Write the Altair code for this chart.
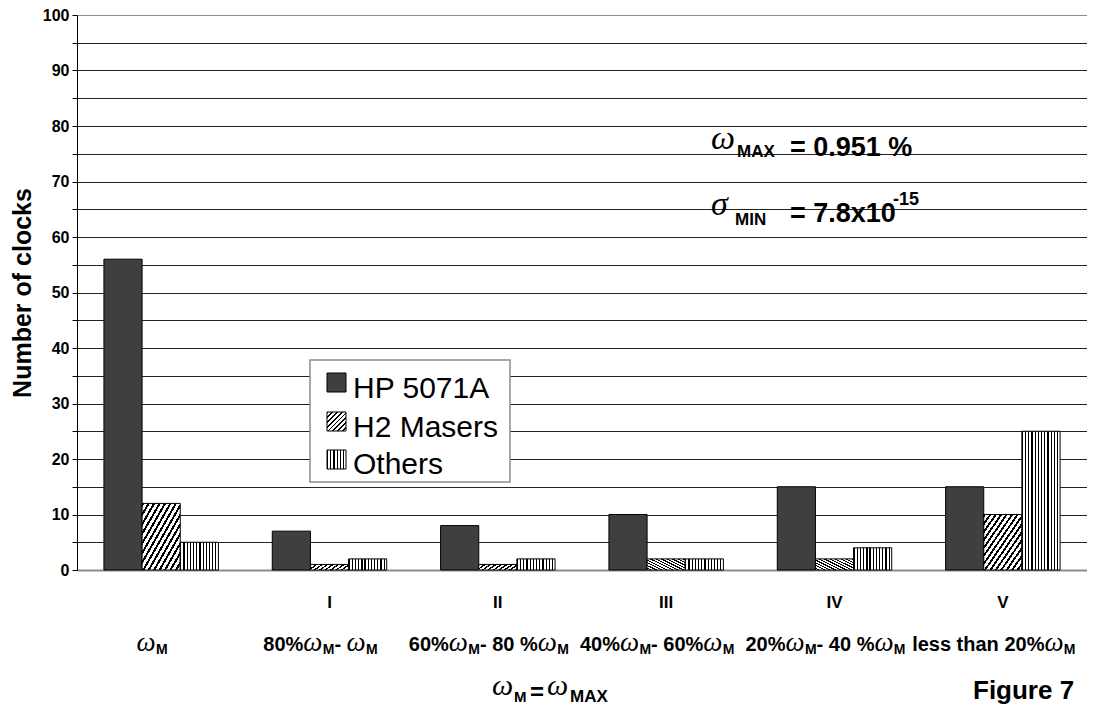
import altair as alt
import pandas as pd

# ---------------- data ----------------
categories = ["M", "I", "II", "III", "IV", "V"]
roman_labels = ["", "I", "II", "III", "IV", "V"]
series = ["HP 5071A", "H2 Masers", "Others"]
hp_5071a = [56, 7, 8, 10, 15, 15]
h2_masers = [12, 1, 1, 2, 2, 10]
others = [5, 2, 2, 2, 4, 25]
range_labels = [
    [("w", "ω"), ("s", "M")],
    [("m", "80%"), ("w", "ω"), ("s", "M"), ("m", "- "), ("w", "ω"), ("s", "M")],
    [("m", "60%"), ("w", "ω"), ("s", "M"), ("m", "- 80 %"), ("w", "ω"), ("s", "M")],
    [("m", "40%"), ("w", "ω"), ("s", "M"), ("m", "- 60%"), ("w", "ω"), ("s", "M")],
    [("m", "20%"), ("w", "ω"), ("s", "M"), ("m", "- 40 %"), ("w", "ω"), ("s", "M")],
    [("m", "less than 20%"), ("w", "ω"), ("s", "M")],
]

# ---------------- styling ----------------
SANS = "Liberation Sans"
SERIF = "Liberation Serif"
W, H = 1010, 555
P_INNER, P_OUTER = 0.32, 0.16
STEP = W / (len(categories) - P_INNER + 2 * P_OUTER)
BAND = STEP * (1 - P_INNER)
BASE = BAND / 2  # xOffset is measured from band start

SIZE = {"m": 20, "w": 27, "s": 14}
ARIAL_B = {" ": 278, "%": 889, "-": 333, ".": 278, "=": 584, "A": 722, "I": 278,
           "M": 833, "N": 722, "X": 667, "V": 667, "a": 556, "e": 556, "h": 611,
           "l": 278, "n": 611, "s": 556, "t": 333, "x": 556}


def text_width(s, kind):
    if kind == "w":
        return 0.72 * SIZE["w"] * len(s)
    return sum(ARIAL_B.get(c, 556) for c in s) / 1000 * SIZE[kind]


def grad(n, frac, x2, y2):
    stops = []
    for i in range(n):
        a, b, c = round(i / n, 5), round((i + frac) / n, 5), round((i + 1) / n, 5)
        stops += [alt.GradientStop(offset=a, color="#000000"),
                  alt.GradientStop(offset=b, color="#000000"),
                  alt.GradientStop(offset=b, color="#ffffff"),
                  alt.GradientStop(offset=c, color="#ffffff")]
    return alt.LinearGradient(gradient="linear", stops=stops, x1=0, y1=0, x2=x2, y2=y2)


FILL_BAR = {"HP 5071A": "#3f3f3f", "H2 Masers": grad(14, 0.42, 1, 1), "Others": grad(12, 0.38, 1, 0)}
FILL_LEG = {"HP 5071A": "#3f3f3f", "H2 Masers": grad(8, 0.42, 1, 1), "Others": grad(6, 0.38, 1, 0)}

# ---------------- tables ----------------
rows = []
for s, vals in zip(series, [hp_5071a, h2_masers, others]):
    for c, v in zip(categories, vals):
        rows.append({"cat": c, "series": s, "value": v})
bars_df = pd.DataFrame(rows)

seg_rows = []
for c, segs in zip(categories, range_labels):
    total = sum(text_width(t, k) for k, t in segs)
    pos = -total / 2 - 9
    for k, t in segs:
        seg_rows.append({"cat": c, "kind": k, "text": t, "off": pos})
        pos += text_width(t, k)
seg_df = pd.DataFrame(seg_rows)
roman_df = pd.DataFrame({"cat": categories, "label": roman_labels})
one = pd.DataFrame({"k": [0]})

xscale = alt.Scale(domain=categories, paddingInner=P_INNER, paddingOuter=P_OUTER)
yscale = alt.Scale(domain=[0, 100], nice=False)
X_AXIS = alt.Axis(title=None, labels=False, ticks=False, domain=True,
                  domainColor="#8c8c8c", domainWidth=2, grid=False)
Y_AXIS = alt.Axis(
    title="Number of clocks", values=list(range(0, 101, 5)),
    labelExpr="datum.value % 10 == 0 ? datum.label : ''",
    grid=True, gridColor={"condition": {"test": "datum.value === 100", "value": "#8c8c8c"}, "value": "#222222"},
    gridWidth=1, tickSize=5, tickColor="#000000", domainColor="#000000",
    labelFont=SANS, labelFontSize=16, labelFontWeight="bold", labelColor="#000000", labelPadding=3,
    titleFont=SANS, titleFontSize=25, titleFontWeight="bold", titleColor="#000000", titlePadding=7,
)

layers = []
for s in series:
    layers.append(
        alt.Chart(bars_df).transform_filter(alt.datum.series == s)
        .mark_bar(fill=FILL_BAR[s], stroke="#000000", strokeWidth=1)
        .encode(
            x=alt.X("cat:N", scale=xscale, axis=X_AXIS),
            xOffset=alt.XOffset("series:N", scale=alt.Scale(domain=series)),
            y=alt.Y("value:Q", scale=yscale, axis=Y_AXIS),
        )
    )

# roman numerals
layers.append(
    alt.Chart(roman_df).mark_text(font=SANS, fontSize=17, fontWeight="bold", color="#000000",
                                  baseline="alphabetic")
    .encode(x=alt.X("cat:N", scale=xscale, axis=X_AXIS), y=alt.value(593), text="label:N")
)

# range labels with subscripts
seg_style = {
    "m": dict(font=SANS, fontSize=SIZE["m"], fontWeight="bold", fontStyle="normal", y=636),
    "w": dict(font=SERIF, fontSize=SIZE["w"], fontWeight="normal", fontStyle="italic", y=636),
    "s": dict(font=SANS, fontSize=SIZE["s"], fontWeight="bold", fontStyle="normal", y=639),
}
for k, st in seg_style.items():
    layers.append(
        alt.Chart(seg_df).transform_filter(alt.datum.kind == k)
        .mark_text(font=st["font"], fontSize=st["fontSize"], fontWeight=st["fontWeight"],
                   fontStyle=st["fontStyle"], align="left", baseline="alphabetic", color="#000000")
        .encode(
            x=alt.X("cat:N", scale=xscale, axis=X_AXIS),
            xOffset=alt.XOffset("off:Q", scale=alt.Scale(domain=[-300, 300], range=[-300 + BASE, 300 + BASE])),
            y=alt.value(st["y"]),
            text="text:N",
        )
    )

# legend
layers.append(
    alt.Chart(one).mark_rect(fill="#ffffff", stroke="#8c8c8c", strokeWidth=1.5)
    .encode(x=alt.value(233), x2=alt.value(433), y=alt.value(345), y2=alt.value(467))
)
leg_y = [358, 397, 435]
leg_base = [383, 422, 459]
for s, y0, yb in zip(series, leg_y, leg_base):
    layers.append(
        alt.Chart(one).mark_rect(fill=FILL_LEG[s], stroke="#000000", strokeWidth=1)
        .encode(x=alt.value(250), x2=alt.value(269), y=alt.value(y0), y2=alt.value(y0 + 19))
    )
    layers.append(
        alt.Chart(one).mark_text(text=s, font=SANS, fontSize=30, align="left", baseline="alphabetic",
                                 color="#000000")
        .encode(x=alt.value(276), y=alt.value(yb))
    )


def ann(text, x, y, size, font=SANS, weight="bold", style="normal"):
    return (alt.Chart(one).mark_text(text=text, font=font, fontSize=size, fontWeight=weight,
                                     fontStyle=style, align="left", baseline="alphabetic", color="#000000")
            .encode(x=alt.value(x), y=alt.value(y)))


layers += [
    ann("ω", 634, 134, 34, SERIF, "normal", "italic"),
    ann("MAX", 660, 142, 17),
    ann("= 0.951 %", 713, 141, 27),
    ann("σ", 634, 200, 34, SERIF, "normal", "italic"),
    ann("MIN", 658, 210, 17),
    ann("= 7.8x10", 713, 207, 27),
    ann("-15", 816, 190, 18),
    ann("ω", 415, 680, 30, SERIF, "normal", "italic"),
    ann("M", 437, 687, 15),
    ann("=", 453, 685, 24),
    ann("ω", 470, 680, 30, SERIF, "normal", "italic"),
    ann("MAX", 493, 687, 17),
    ann("Figure 7", 896, 684, 26),
]

chart = (
    alt.layer(*layers)
    .resolve_scale(xOffset="independent")
    .properties(width=W, height=H, padding={"left": 69, "top": 7, "right": 0, "bottom": 137},
                autosize=alt.AutoSizeParams(type="none"))
    .configure_view(stroke=None)
    .configure(background="#ffffff")
)

chart.save("out.html", embed_options={"renderer": "svg", "actions": False})
